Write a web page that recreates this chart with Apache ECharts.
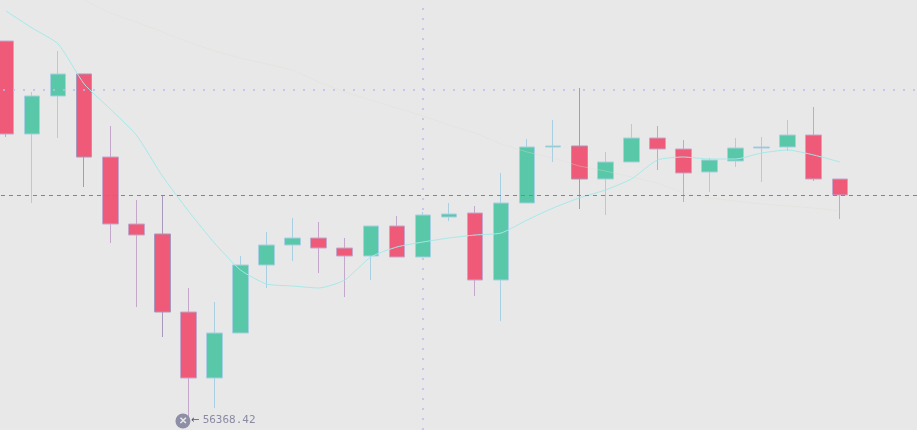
<!DOCTYPE html>
<html>
<head>
<meta charset="utf-8">
<title>Candles</title>
<style>
  html, body { margin: 0; padding: 0; background: #e8e8e8; }
  #chart { width: 917px; height: 430px; }
</style>
<script src="https://cdn.jsdelivr.net/npm/echarts@6/dist/echarts.min.js"></script>
</head>
<body>
<div id="chart"></div>
<script>
const opens = [60158, 59228, 59608, 59828, 58998, 58328, 58228, 57448, 56788, 57238, 57918, 58118, 58188, 58088, 58008, 58308, 57998, 58398, 58438, 57768, 58538, 59098, 59108, 58778, 58948, 59188, 59078, 58848, 58958, 59088, 59098, 59218, 58778]
const closes = [59228, 59608, 59828, 58998, 58328, 58218, 57448, 56788, 57238, 57918, 58118, 58188, 58088, 58008, 58308, 57998, 58418, 58428, 57768, 58538, 59098, 59108, 58778, 58948, 59188, 59078, 58838, 58968, 59088, 59098, 59218, 58778, 58618]
const lows = [59198, 58538, 59188, 58698, 58138, 57498, 57198, 56368.42, 56488, 57238, 57688, 57958, 57838, 57598, 57768, 57998, 57998, 58358, 57608, 57358, 58538, 58948, 58478, 58418, 58948, 58868, 58548, 58648, 58898, 58748, 59058, 58758, 58378]
const highs = [60158, 59648, 60058, 59828, 59308, 58568, 58618, 57688, 57548, 58008, 58248, 58388, 58348, 58188, 58308, 58408, 58448, 58538, 58508, 58838, 59178, 59368, 59688, 59048, 59328, 59308, 59168, 58988, 59188, 59198, 59368, 59498, 58778]
const maFast = [60458, 60288, 60128, 59728, 59478, 59218, 58808, 58458, 58138, 57868, 57728, 57708, 57688, 57768, 57998, 58098, 58148, 58188, 58218, 58238, 58368, 58488, 58588, 58668, 58778, 58968, 58998, 58978, 58978, 59038, 59068, 59018, 58948]
const maSlow = ['-', '-', '-', 60568, 60438, 60348, 60248, 60148, 60058, 59988, 59928, 59868, 59748, 59648, 59568, 59488, 59408, 59318, 59238, 59128, 59048, 58988, 58908, 58858, 58798, 58738, 58638, 58588, 58558, 58528, 58508, 58488, 58458]
const categories = [...opens.keys(), 33, 34, 35].map(String)
const priceLines = [59668, 58618]
const crossCategory = '16'
const lowLabel = '56368.42'
const lowIndex = 7
const darkWicks = [3, 6, 22]

const candles = opens.map((o, i) => {
  const value = [o, closes[i], lows[i], highs[i]]
  if (!darkWicks.includes(i)) return value
  return { value, itemStyle: { borderColor: '#a898bc', borderColor0: '#a898bc' } }
})

const chart = echarts.init(document.getElementById('chart'))
chart.setOption({
  animation: false,
  backgroundColor: '#e8e8e8',
  grid: { left: -7, top: 0, width: 938, height: 430, outerBoundsMode: 'none' },
  xAxis: { type: 'category', data: categories, show: false },
  yAxis: { type: 'value', min: 56268, max: 60568, show: false },
  series: [
    {
      type: 'candlestick',
      z: 2,
      barWidth: 16,
      data: candles,
      itemStyle: {
        color: '#58c8a8',
        color0: '#ee5a78',
        borderColor: '#a9cfe2',
        borderColor0: '#c4a8cc',
        borderWidth: 1,
      },
      markLine: {
        silent: true,
        symbol: 'none',
        z: 1,
        label: { show: false },
        lineStyle: { color: '#bcbcf0', type: [2, 8], width: 1.5 },
        data: [{ xAxis: crossCategory }],
      },
      markPoint: {
        silent: true,
        data: [
          {
            coord: [lowIndex, lows[lowIndex]],
            symbol: 'circle',
            symbolSize: 15,
            symbolOffset: [-5.5, 1],
            itemStyle: { color: '#8e8ea6' },
            label: { show: true, position: 'inside', formatter: '✕', color: '#e8e8e8', fontSize: 10, fontWeight: 'bold' },
          },
          {
            coord: [lowIndex, lows[lowIndex]],
            symbol: 'circle',
            symbolSize: 1,
            itemStyle: { color: 'transparent' },
            label: {
              show: true,
              position: 'right',
              distance: 2,
              formatter: '{a|←} {b|' + lowLabel + '}',
              rich: {
                a: { color: '#55556a', fontSize: 10, fontFamily: 'DejaVu Sans' },
                b: { color: '#8a8aa4', fontSize: 11, fontFamily: 'DejaVu Sans Mono' },
              },
            },
          },
        ],
      },
    },
    {
      type: 'line',
      z: 3,
      data: maFast,
      symbol: 'none',
      smooth: 0.2,
      lineStyle: { color: '#a6e8ea', width: 1 },
      markLine: {
        silent: true,
        symbol: 'none',
        label: { show: false },
        data: [
          { yAxis: priceLines[0], lineStyle: { color: '#bcbcf0', type: [2, 8], width: 1.5 } },
          { yAxis: priceLines[1], lineStyle: { color: '#7a7ad0', type: [4, 4], width: 1 } },
        ],
      },
    },
    {
      type: 'line',
      z: 3,
      data: maSlow,
      symbol: 'none',
      lineStyle: { color: 'rgba(220,220,205,0.35)', width: 1 },
    },
  ],
})
</script>
</body>
</html>
